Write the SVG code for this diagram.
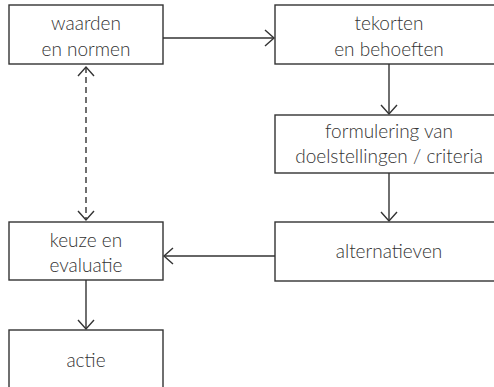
<svg xmlns="http://www.w3.org/2000/svg" width="494" height="387" viewBox="0 0 494 387">
  <defs>
    <style>
      .box { fill: #ffffff; stroke: #333333; stroke-width: 1.4; }
      .lbl { font-family: Lato, "Open Sans", sans-serif; font-weight: 300; font-size: 19px; fill: #333333; text-anchor: middle; }
      .edge { fill: none; stroke: #333333; stroke-width: 1.4; }
      .dash { stroke-dasharray: 6 4; }
    </style>
    <marker id="arrow" markerUnits="userSpaceOnUse" viewBox="-10 -10 12 20" markerWidth="12" markerHeight="20" refX="0" refY="0" orient="auto-start-reverse">
      <path d="M-9,-8 L0,0 L-9,8" fill="none" stroke="#333333" stroke-width="1.4"/>
    </marker>
  </defs>
  <rect width="494" height="387" fill="#ffffff"/>

  <g id="connectors">
    <line class="edge" x1="163" y1="38" x2="274" y2="38" marker-end="url(#arrow)"/>
    <line class="edge" x1="389" y1="64" x2="389" y2="114" marker-end="url(#arrow)"/>
    <line class="edge" x1="389" y1="173" x2="389" y2="221" marker-end="url(#arrow)"/>
    <line class="edge" x1="275" y1="256" x2="164" y2="256" marker-end="url(#arrow)"/>
    <line class="edge" x1="86" y1="280" x2="86" y2="329" marker-end="url(#arrow)"/>
    <line class="edge dash" x1="86" y1="67" x2="86" y2="220" marker-start="url(#arrow)" marker-end="url(#arrow)"/>
  </g>

  <g id="waarden">
    <rect class="box" x="9" y="5" width="154" height="59"/>
    <text class="lbl" x="86" y="30">waarden</text>
    <text class="lbl" x="86" y="56">en normen</text>
  </g>

  <g id="tekorten">
    <rect class="box" x="275" y="5" width="228" height="59"/>
    <text class="lbl" x="389" y="30">tekorten</text>
    <text class="lbl" x="389" y="56">en behoeften</text>
  </g>

  <g id="formulering">
    <rect class="box" x="275" y="115" width="228" height="58"/>
    <text class="lbl" x="389" y="138">formulering van</text>
    <text class="lbl" x="389" y="163">doelstellingen / criteria</text>
  </g>

  <g id="alternatieven">
    <rect class="box" x="275" y="222" width="228" height="59"/>
    <text class="lbl" x="389" y="258">alternatieven</text>
  </g>

  <g id="keuze">
    <rect class="box" x="9" y="222" width="154" height="58"/>
    <text class="lbl" x="86" y="247">keuze en</text>
    <text class="lbl" x="86" y="272">evaluatie</text>
  </g>

  <g id="actie">
    <rect class="box" x="9" y="330" width="154" height="70"/>
    <text class="lbl" x="86" y="367">actie</text>
  </g>
</svg>
